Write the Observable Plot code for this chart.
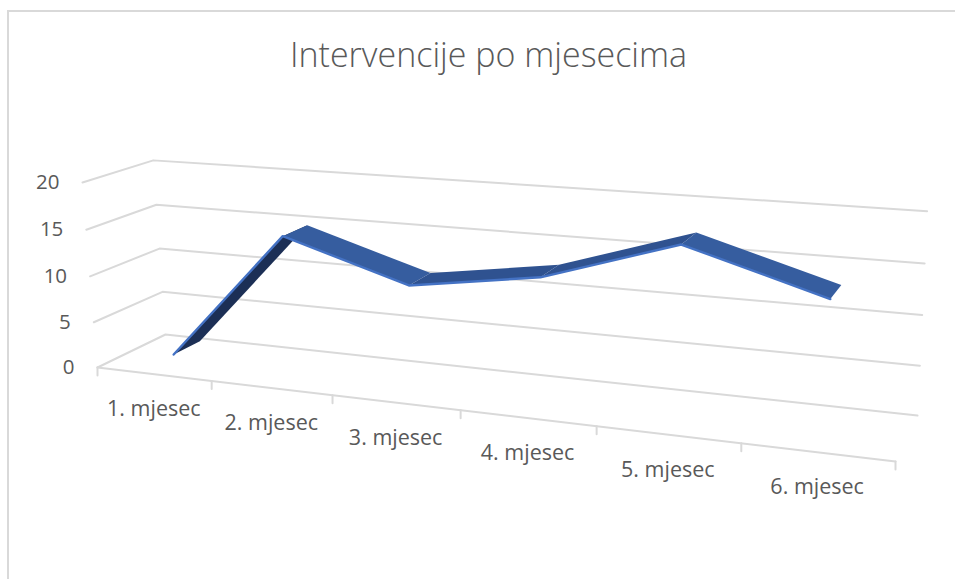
<!DOCTYPE html>
<html>
<head>
<meta charset="utf-8">
<script src="https://cdn.jsdelivr.net/npm/d3@7"></script>
<script src="https://cdn.jsdelivr.net/npm/@observablehq/plot@0.6"></script>
<style>
html,body{margin:0;padding:0;background:#fff;width:955px;height:579px;overflow:hidden}
#frame{position:absolute;left:7px;top:10px;width:948px;height:569px;border-left:2px solid #d9d9d9;border-top:2px solid #d9d9d9;box-sizing:border-box;pointer-events:none}
</style>
</head>
<body>
<div id="chart"></div>
<div id="frame"></div>
<script>
const chartTitle = "Intervencije po mjesecima";
const categories = ["1. mjesec","2. mjesec","3. mjesec","4. mjesec","5. mjesec","6. mjesec"];
const values = [1, 15, 11, 13, 17.3, 13.3];
const valueTicks = [0, 5, 10, 15, 20];
const segmentColors = ["#1c2f55","#365d9f","#2f5290","#2f5290","#365d9f"];

const vMax = 20;
// Perspective of the 3D box: month axis u, value axis v, depth w (all 0..1)
const O=[97,367], U=[895,461], V=[82,182], W=[165,334];
const a=-0.165, b=-0.028, c=0.066;
function project(u,v,w){
  const d=1+a*u+b*v+c*w;
  return [0,1].map(i=>(O[i]+(U[i]*(1+a)-O[i])*u+(V[i]*(1+b)-O[i])*v+(W[i]*(1+c)-O[i])*w)/d);
}
const n=categories.length;
const uMid=i=>(i+0.5)/n;
const frontW=0.3, backW=0.7;

const pt=(u,value,w)=>{const [x,y]=project(u,value/vMax,w);return {x,y};};
const grid=valueTicks.flatMap(t=>[
  {...pt(0,t,0),t},{...pt(0,t,1),t},{...pt(1,t,1),t}
]);
const floorEdge=[pt(0,0,0),pt(1,0,0)];
const ticks=d3.range(n+1).flatMap(i=>{const p=pt(i/n,0,0);return [{...p,i},{x:p.x,y:p.y+8,i}];});
const valueLabels=valueTicks.map(t=>{const p=pt(0,t,0);return {x:p.x-23,y:p.y,t};});
const catLabels=categories.map((name,i)=>{const p=pt(uMid(i),0,0);return {x:p.x,y:p.y+35,name};});

const ribbons=d3.range(n-1).map(i=>({
  color:segmentColors[i],
  poly:[pt(uMid(i),values[i],frontW),pt(uMid(i+1),values[i+1],frontW),pt(uMid(i+1),values[i+1],backW),pt(uMid(i),values[i],backW)]
}));
const frontEdge=values.map((v,i)=>pt(uMid(i),v,frontW));

const font="'Open Sans',sans-serif";
const plot=Plot.plot({
  width:955,height:579,margin:0,
  x:{domain:[0,955],range:[0,955],axis:null},
  y:{domain:[0,579],range:[0,579],axis:null},
  style:{background:"#fff",fontFamily:font},
  marks:[
    Plot.line(grid,{x:"x",y:"y",z:"t",stroke:"#d9d9d9",strokeWidth:2}),
    Plot.line(floorEdge,{x:"x",y:"y",stroke:"#d9d9d9",strokeWidth:2}),
    Plot.line(ticks,{x:"x",y:"y",z:"i",stroke:"#d9d9d9",strokeWidth:2}),
    ...ribbons.map(r=>Plot.line(r.poly,{x:"x",y:"y",fill:r.color,stroke:"none"})),
    Plot.line(frontEdge,{x:"x",y:"y",stroke:"#4472c4",strokeWidth:2.4}),
    Plot.text(valueLabels,{x:"x",y:"y",text:d=>String(d.t),textAnchor:"end",fontSize:20.5,fill:"#595959"}),
    Plot.text(catLabels,{x:"x",y:"y",text:"name",fontSize:21.5,fill:"#595959"}),
    Plot.text([chartTitle],{x:()=>488,y:()=>56,text:d=>d,fontSize:34,fontWeight:300,fill:"#595959"})
  ]
});
document.getElementById("chart").appendChild(plot);
</script>
</body>
</html>
